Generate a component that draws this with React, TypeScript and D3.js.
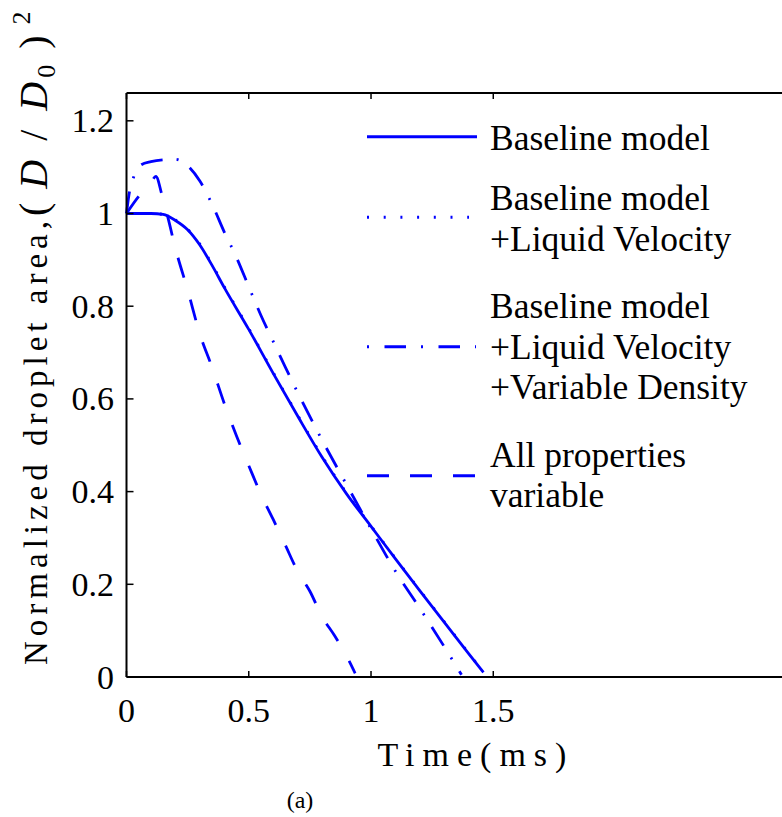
import React from "react";
import * as d3 from "d3";

// ---- data (time in ms, normalized area) ----
const timeBaseline = [0, 0.05, 0.1, 0.15, 0.2, 0.25, 0.3, 0.35, 0.4, 0.5, 0.6, 0.7, 0.8, 0.9, 1.0, 1.1, 1.2, 1.3, 1.4, 1.46];
const areaBaseline = [1.0, 1.0, 1.0, 0.998, 0.985, 0.965, 0.932, 0.888, 0.84, 0.75, 0.655, 0.563, 0.474, 0.395, 0.325, 0.255, 0.186, 0.118, 0.05, 0.01];

const timeLiquidVel = [0, 0.05, 0.1, 0.15, 0.2, 0.25, 0.3, 0.35, 0.4, 0.5, 0.6, 0.7, 0.8, 0.9, 1.0, 1.1, 1.2, 1.3, 1.4, 1.46];
const areaLiquidVel = [1.0, 1.0, 1.0, 0.998, 0.986, 0.966, 0.934, 0.89, 0.842, 0.752, 0.657, 0.565, 0.476, 0.397, 0.326, 0.256, 0.187, 0.119, 0.051, 0.01];

const timeVarDensity = [0, 0.01, 0.03, 0.06, 0.1, 0.15, 0.2, 0.25, 0.3, 0.35, 0.4, 0.45, 0.5, 0.55, 0.6, 0.65, 0.7, 0.8, 0.9, 1.0, 1.1, 1.2, 1.3, 1.37];
const areaVarDensity = [1.0, 1.04, 1.08, 1.105, 1.112, 1.116, 1.117, 1.103, 1.07, 1.02, 0.96, 0.905, 0.842, 0.78, 0.724, 0.668, 0.614, 0.511, 0.415, 0.32, 0.228, 0.148, 0.065, 0.005];

const timeAllVar = [0, 0.05, 0.1, 0.12, 0.145, 0.17, 0.2, 0.25, 0.3, 0.35, 0.4, 0.45, 0.5, 0.55, 0.6, 0.65, 0.7, 0.75, 0.8, 0.85, 0.9, 0.935];
const areaAllVar = [1.0, 1.037, 1.066, 1.08, 1.04, 0.99, 0.925, 0.835, 0.74, 0.668, 0.59, 0.52, 0.456, 0.394, 0.34, 0.284, 0.228, 0.185, 0.13, 0.09, 0.045, 0.008];

const xTicks = [0, 0.5, 1, 1.5];
const xTickLabels = ["0", "0.5", "1", "1.5"];
const yTicks = [0, 0.2, 0.4, 0.6, 0.8, 1, 1.2];
const yTickLabels = ["0", "0.2", "0.4", "0.6", "0.8", "1", "1.2"];

const legendLabels = [
  ["Baseline model"],
  ["Baseline model", "+Liquid Velocity"],
  ["Baseline model", "+Liquid Velocity", "+Variable Density"],
  ["All properties", "variable"],
];

const BLUE = "#0000ff";
const FONT = "'Liberation Serif', Tinos, 'Times New Roman', serif";

export default function App() {
  const W = 782, H = 817;
  const x = d3.scaleLinear().domain([0, 2.7]).range([126.5, 786.7]);
  const y = d3.scaleLinear().domain([0, 1.26]).range([677, 93]);

  const line = d3
    .line<[number, number]>()
    .x((d) => x(d[0]))
    .y((d) => y(d[1]))
    .curve(d3.curveMonotoneX);

  const zip = (t: number[], v: number[]) => t.map((ti, i) => [ti, v[i]] as [number, number]);

  const series = [
    { t: timeLiquidVel, v: areaLiquidVel, dash: "2,14.7" },
    { t: timeAllVar, v: areaAllVar, dash: "21,23" },
    { t: timeVarDensity, v: areaVarDensity, dash: "22,14,2,14" },
    { t: timeBaseline, v: areaBaseline, dash: undefined as string | undefined },
  ];

  const legendStyles = [undefined, "2,14.7", "2,15.5,21.5,15", "22,21"];
  const legendLineY = [136.7, 217.3, 346.7, 475.7];
  const legendTextY = [150, 210, 318.3, 466.7];
  const legendLineEnd = [477, 469, 476, 477];

  const top = y.range()[1];
  const bottom = y.range()[0];
  const left = x.range()[0];
  const tf = { fontFamily: FONT };

  return (
    <svg width={W} height={H} style={{ position: "absolute", left: 0, top: 0, background: "#fff", fontFamily: FONT }}>
      <rect width={W} height={H} fill="#fff" />
      {/* curves */}
      {series.map((s, i) => (
        <path key={i} d={line(zip(s.t, s.v)) || ""} fill="none" stroke={BLUE} strokeWidth={2.8} strokeDasharray={s.dash} />
      ))}

      {/* axes frame */}
      <line x1={left} x2={W} y1={bottom} y2={bottom} stroke="#000" strokeWidth={2} />
      <line x1={left} x2={W} y1={top} y2={top} stroke="#000" strokeWidth={2} />
      <line x1={left} x2={left} y1={top} y2={bottom} stroke="#000" strokeWidth={2} />

      {/* x ticks */}
      {xTicks.map((t, i) => (
        <g key={"xt" + i}>
          <line x1={x(t)} x2={x(t)} y1={bottom} y2={bottom - 6} stroke="#000" strokeWidth={1.5} />
          <line x1={x(t)} x2={x(t)} y1={top} y2={top + 6} stroke="#000" strokeWidth={1.5} />
          <text x={x(t)} y={722} fontSize={34} textAnchor="middle" fill="#000" style={tf}>
            {xTickLabels[i]}
          </text>
        </g>
      ))}
      {/* y ticks */}
      {yTicks.map((v, i) => (
        <g key={"yt" + i}>
          <line x1={left} x2={left + 7} y1={y(v)} y2={y(v)} stroke="#000" strokeWidth={1.5} />
          <text x={114} y={y(v)} dy="0.34em" fontSize={34} textAnchor="end" fill="#000" style={tf}>
            {yTickLabels[i]}
          </text>
        </g>
      ))}

      {/* axis labels */}
      <text x={476} y={766} fontSize={34} textAnchor="middle" letterSpacing={8} fill="#000" style={tf}>
        Time(ms)
      </text>
      <text x={300} y={808} fontSize={24} textAnchor="middle" fill="#000" style={tf}>
        (a)
      </text>
      <text transform="translate(47,665) rotate(-90)" fontSize={33} letterSpacing={5} fill="#000" style={tf}>
        <tspan>Normalized droplet area,</tspan>
        <tspan fontSize={40} letterSpacing={14}>(</tspan>
        <tspan fontSize={40} fontStyle="italic" letterSpacing={19}>D</tspan>
        <tspan fontSize={40} letterSpacing={19}>/</tspan>
        <tspan fontSize={40} fontStyle="italic" letterSpacing={4}>D</tspan>
        <tspan fontSize={26} dy={8} letterSpacing={16}>0</tspan>
        <tspan fontSize={40} dy={-8} letterSpacing={11}>)</tspan>
        <tspan fontSize={26} dy={-17}>2</tspan>
      </text>

      {/* legend */}
      {legendLabels.map((lines, i) => (
        <g key={"lg" + i}>
          <line x1={367} x2={legendLineEnd[i]} y1={legendLineY[i]} y2={legendLineY[i]} stroke={BLUE} strokeWidth={3} strokeDasharray={legendStyles[i]} />
          {lines.map((l, j) => (
            <text key={j} x={490} y={legendTextY[i] + j * 40.5} fontSize={35.5} fill="#000" style={tf}>
              {l}
            </text>
          ))}
        </g>
      ))}
    </svg>
  );
}
